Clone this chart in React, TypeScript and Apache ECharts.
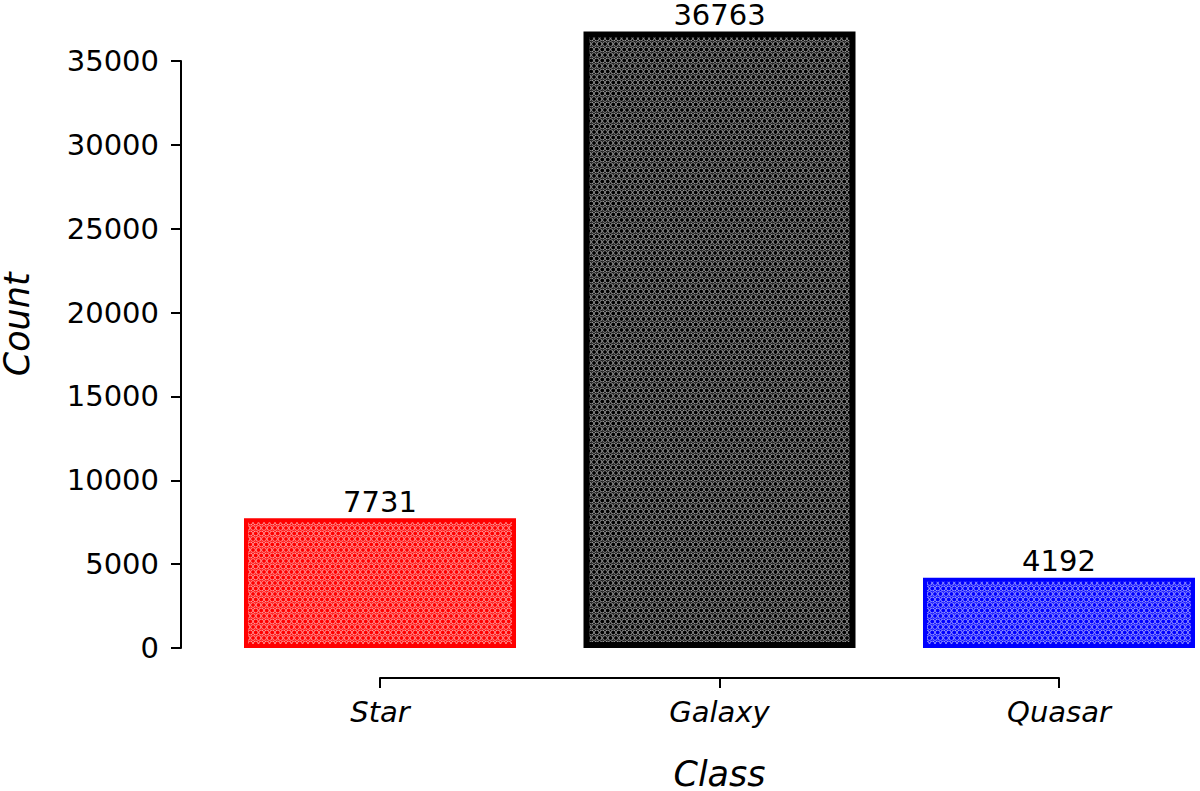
import React, { useEffect, useRef } from "react";
import * as echarts from "echarts";

const categories = ["Star", "Galaxy", "Quasar"];
const counts = [7731, 36763, 4192];
const barColors = ["#ff0000", "#000000", "#0000ff"];
const borderWidths = [4, 6, 4];
const yTickMax = 35000;
const yTickStep = 5000;

const FONT = "DejaVu Sans";

function makePattern(color: string): HTMLCanvasElement {
  const c = document.createElement("canvas");
  const s = 11;
  c.width = s;
  c.height = s;
  const ctx = c.getContext("2d")!;
  ctx.fillStyle = color;
  ctx.fillRect(0, 0, s, s);
  ctx.strokeStyle = "rgba(255,255,255,0.8)";
  ctx.lineWidth = 0.7;
  const p = s / 2;
  const r = 2.4;
  const pts: [number, number][] = [];
  for (let row = -1; row <= 2; row++) {
    const off = ((row % 2) + 2) % 2 === 1 ? p / 2 : 0;
    for (let col = -1; col <= 3; col++) {
      pts.push([col * p + off, row * p]);
    }
  }
  pts.forEach(([x, y]) => {
    ctx.beginPath();
    ctx.arc(x, y, r, 0, Math.PI * 2);
    ctx.stroke();
  });
  return c;
}

export default function App() {
  const ref = useRef<HTMLDivElement>(null);
  useEffect(() => {
    if (!ref.current) return;
    const chart = echarts.init(ref.current, null, { renderer: "svg" });
    const dataMax = Math.max(...counts);
    const yMax = dataMax * 1.05;
    const zeroY = 648;
    const tickTopY = 61;
    const pxPerUnit = (zeroY - tickTopY) / yTickMax;
    const grid0Top = zeroY - yMax * pxPerUnit;
    const left = 380;
    const right = 141;
    const bottom = 791 - zeroY;
    const axisOffset = 199;

    chart.setOption({
      animation: false,
      backgroundColor: "#ffffff",
      grid: [
        { left, right, top: grid0Top, bottom, outerBoundsMode: "none", containLabel: false },
        { left, right, top: tickTopY, bottom, outerBoundsMode: "none", containLabel: false },
      ],
      xAxis: [
        {
          type: "value",
          gridIndex: 0,
          min: 0,
          max: categories.length - 1,
          interval: 1,
          offset: 30,
          name: "Class",
          nameLocation: "middle",
          nameGap: 78,
          nameTextStyle: { fontFamily: FONT, fontSize: 35, fontStyle: "italic", color: "#000" },
          axisLine: { show: true, onZero: false, lineStyle: { color: "#000", width: 2 } },
          axisTick: { show: true, length: 10, lineStyle: { color: "#000", width: 2 } },
          axisLabel: {
            show: true,
            margin: 19,
            fontFamily: FONT,
            fontSize: 29,
            fontStyle: "italic",
            color: "#000",
            formatter: (v: number) => categories[v] ?? "",
          },
          splitLine: { show: false },
        },
        {
          type: "value",
          gridIndex: 1,
          min: 0,
          max: categories.length - 1,
          show: false,
          axisLine: { onZero: false },
        },
      ],
      yAxis: [
        {
          type: "value",
          gridIndex: 0,
          min: 0,
          max: yMax,
          offset: axisOffset,
          name: "Count",
          nameLocation: "middle",
          nameGap: 147,
          nameTextStyle: { fontFamily: FONT, fontSize: 35, fontStyle: "italic", color: "#000" },
          axisLine: { show: false, onZero: false },
          axisTick: { show: false },
          axisLabel: { show: false },
          splitLine: { show: false },
        },
        {
          type: "value",
          gridIndex: 1,
          min: 0,
          max: yTickMax,
          interval: yTickStep,
          offset: axisOffset,
          axisLine: { show: true, onZero: false, lineStyle: { color: "#000", width: 2 } },
          axisTick: { show: true, length: 10, lineStyle: { color: "#000", width: 2 } },
          axisLabel: {
            show: true,
            margin: 22,
            fontFamily: FONT,
            fontSize: 29,
            color: "#000",
            formatter: (v: number) => String(v),
          },
          splitLine: { show: false },
        },
      ],
      series: [
        {
          type: "bar",
          xAxisIndex: 0,
          yAxisIndex: 0,
          barWidth: 272,
          clip: false,
          data: counts.map((v, i) => ({
            value: [i, v],
            itemStyle: {
              color: { image: makePattern(barColors[i]), repeat: "repeat" },
              borderColor: barColors[i],
              borderWidth: borderWidths[i],
            },
          })),
          label: {
            show: true,
            position: "top",
            distance: 2,
            fontFamily: FONT,
            fontSize: 29,
            color: "#000",
            formatter: (p: any) => String(p.value[1]),
          },
        },
      ],
    });
    return () => chart.dispose();
  }, []);
  return (
    <div
      ref={ref}
      style={{ position: "absolute", left: 0, top: 0, width: 1200, height: 791 }}
    />
  );
}
